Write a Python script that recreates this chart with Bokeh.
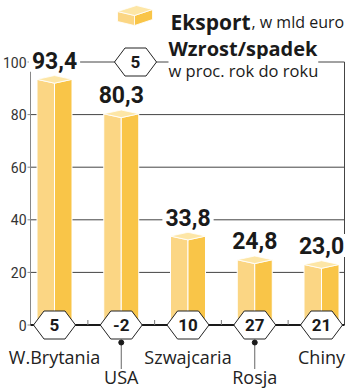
from bokeh.plotting import figure
from bokeh.models import Range1d
from bokeh.embed import file_html
from bokeh.resources import INLINE
from bokeh.core.properties import value

# ---------------- data ----------------
countries = ["W.Brytania", "USA", "Szwajcaria", "Rosja", "Chiny"]
export_bn_eur = [93.4, 80.3, 33.8, 24.8, 23.0]
change_pct = [5, -2, 10, 27, 21]
y_ticks = [0, 20, 40, 60, 80, 100]
label_row = [0, 1, 0, 1, 0]          # staggered category labels
legend_example = 5
legend_title1 = "Eksport"
legend_sub1 = ", w mld euro"
legend_title2 = "Wzrost/spadek"
legend_sub2 = "w proc. rok do roku"

# ---------------- layout ----------------
W, H = 350, 390
X0_PX, STEP_PX = 54.0, 66.75       # pixel centre of first category, spacing
Y0_PX, PPU = 324.5, 2.63           # pixel of value 0, pixels per unit

def px2x(px):
    return (px - X0_PX) / STEP_PX

def px2y(py):
    return (Y0_PX - py) / PPU

def dx(px):
    return px / STEP_PX

def dy(px):
    return px / PPU

AX = px2x(30)
RIGHT = px2x(344)

NUM_FONT = value("Roboto")
TXT_FONT = value("Open Sans")

LEFT_C, RIGHT_C, TOP_C = "#FBD684", "#F9C548", "#FDE6A6"

p = figure(width=W, height=H, output_backend="svg", toolbar_location=None,
           x_range=Range1d(px2x(0), px2x(W)), y_range=Range1d(px2y(H), px2y(0)),
           x_axis_location=None, y_axis_location=None, min_border=0,
           outline_line_color=None, background_fill_color="white")
p.grid.visible = False

n = len(countries)
xs_idx = list(range(n))

# gridlines + frame
grid_vals = [t for t in y_ticks if t > 0]
p.segment(x0=[AX] * len(grid_vals), x1=[RIGHT] * len(grid_vals), y0=grid_vals, y1=grid_vals,
          line_color="#444444", line_width=1)
p.segment(x0=[RIGHT], x1=[RIGHT], y0=[0], y1=[max(y_ticks)], line_color="#444444", line_width=1)
p.segment(x0=[AX], x1=[AX], y0=[0], y1=[max(y_ticks)], line_color="#888888", line_width=1)
p.segment(x0=[AX - dx(3)] * len(y_ticks), x1=[AX] * len(y_ticks), y0=y_ticks, y1=y_ticks,
          line_color="#888888", line_width=1)
p.text(x=[AX] * len(y_ticks), y=y_ticks, text=[str(t) for t in y_ticks], x_offset=-4,
       text_align="right", text_baseline="middle", text_font=NUM_FONT,
       text_font_size="14px", text_color="#333333")

# 3D bars
hw = dx(17.5)
d = dy(3.8)
lx, ly, rx, ry, tx, ty = [], [], [], [], [], []
for i, v in zip(xs_idx, export_bn_eur):
    lx.append([i - hw, i - hw, i, i]); ly.append([0, v, v - d, 0])
    rx.append([i, i, i + hw, i + hw]); ry.append([0, v - d, v, 0])
    tx.append([i - hw, i, i + hw, i]); ty.append([v, v - d, v, v + d])
p.patches(lx, ly, fill_color=LEFT_C, line_color="white", line_width=1)
p.patches(rx, ry, fill_color=RIGHT_C, line_color="white", line_width=1)
p.patches(tx, ty, fill_color=TOP_C, line_color="white", line_width=0.8)

# baseline and small ticks
p.segment(x0=[AX], x1=[RIGHT], y0=[0], y1=[0], line_color="#1a1a1a", line_width=2)
mids = [i + 0.5 for i in xs_idx[:-1]]
p.segment(x0=mids, x1=mids, y0=[0] * len(mids), y1=[dy(5)] * len(mids),
          line_color="#777777", line_width=1)

# value labels
p.text(x=xs_idx, y=export_bn_eur, text=[f"{v:.1f}".replace(".", ",") for v in export_bn_eur],
       y_offset=-19, text_align="center", text_baseline="middle", text_font=NUM_FONT,
       text_font_style="bold", text_font_size="23px", text_color="#1a1a1a",
       background_fill_color="white", padding=3)

# hexagons
hx, inset, hy = dx(21), dx(10.5), dy(14)

def hexagon(cx, cy):
    return ([cx - hx, cx - hx + inset, cx + hx - inset, cx + hx, cx + hx - inset, cx - hx + inset],
            [cy, cy + hy, cy + hy, cy, cy - hy, cy - hy])

hxs, hys = [], []
for i in xs_idx:
    a, b = hexagon(i, 0)
    hxs.append(a); hys.append(b)
leg_cx, leg_cy = px2x(135), max(y_ticks)
a, b = hexagon(leg_cx, leg_cy)
hxs.append(a); hys.append(b)
p.patches(hxs, hys, fill_color="white", line_color="#222222", line_width=1)
p.text(x=xs_idx + [leg_cx], y=[0] * n + [leg_cy], text=[str(c) for c in change_pct] + [str(legend_example)],
       text_align="center", text_baseline="middle", text_font=NUM_FONT, text_font_style="bold",
       text_font_size="17px", text_color="#1a1a1a")

# leader lines for staggered labels
low = [i for i, r in zip(xs_idx, label_row) if r == 1]
p.segment(x0=low, x1=low, y0=[-dy(17.5)] * len(low), y1=[-dy(44)] * len(low),
          line_color="#666666", line_width=1)
p.scatter(x=low, y=[-dy(17.5)] * len(low), size=5, color="#1a1a1a")

# category labels
p.text(x=xs_idx, y=[-dy(32) if r == 0 else -dy(51.5) for r in label_row], text=countries,
       text_align="center", text_baseline="middle", text_font=TXT_FONT,
       text_font_size="18px", text_color="#222222")

# legend: box icon
bl, bc, br = px2x(117), px2x(134), px2x(152)
p.patches([[bl, bc, bc, bl], [bc, br, br, bc], [bl, px2x(136), br, bc]],
          [[px2y(11), px2y(15), px2y(25), px2y(21)],
           [px2y(15), px2y(9), px2y(19), px2y(25)],
           [px2y(11), px2y(5), px2y(9), px2y(15)]],
          fill_color=[LEFT_C, RIGHT_C, TOP_C], line_color="white", line_width=0.8)

p.text(x=[px2x(170)], y=[px2y(21)], text=[legend_title1], text_align="left",
       text_baseline="alphabetic", text_font=TXT_FONT, text_font_style="bold",
       text_font_size="21px", text_color="#1a1a1a")
p.text(x=[px2x(251)], y=[px2y(21)], text=[legend_sub1], text_align="left",
       text_baseline="alphabetic", text_font=TXT_FONT, text_font_size="16px", text_color="#1a1a1a")
p.text(x=[px2x(168)], y=[px2y(48)], text=[legend_title2], text_align="left",
       text_baseline="alphabetic", text_font=TXT_FONT, text_font_style="bold",
       text_font_size="20px", text_color="#1a1a1a")
p.text(x=[px2x(168)], y=[px2y(70)], text=[legend_sub2], text_align="left",
       text_baseline="alphabetic", text_font=TXT_FONT, text_font_size="16.5px", text_color="#1a1a1a",
       background_fill_color="white", padding=0)

open("out.html", "w").write(file_html(p, INLINE))
